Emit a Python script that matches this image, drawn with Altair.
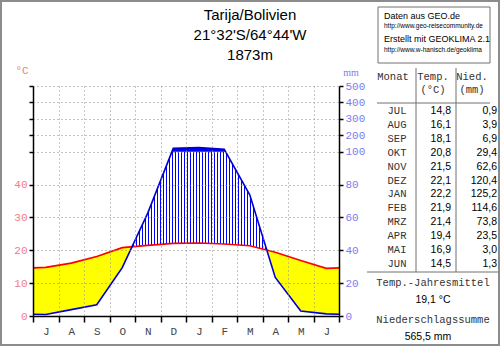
import altair as alt
import numpy as np
import pandas as pd

# ---------------- data ----------------
station_lines = ["Tarija/Bolivien", "21°32'S/64°44'W", "1873m"]
months_de = ["JUL", "AUG", "SEP", "OKT", "NOV", "DEZ", "JAN", "FEB", "MRZ", "APR", "MAI", "JUN"]
month_letters = ["J", "A", "S", "O", "N", "D", "J", "F", "M", "A", "M", "J"]
temp = [14.8, 16.1, 18.1, 20.8, 21.5, 22.1, 22.2, 21.9, 21.4, 19.4, 16.9, 14.5]
precip = [0.9, 3.9, 6.9, 29.4, 62.6, 120.4, 125.2, 114.6, 73.8, 23.5, 3.0, 1.3]
axis_levels = [0, 20, 40, 60, 80, 100, 110, 120, 130, 140]   # diagram units
source_lines = ["Daten aus GEO.de", "http://www.geo-reisecommunity.de",
                "Erstellt mit GEOKLIMA 2.1", "http://www.w-hanisch.de/geoklima"]

# ---------------- layout ----------------
OX, OY = 33, 86          # plot origin in page pixels
W, H = 306, 230          # plot area
PXM = W / 12             # pixels per month


def fmt(v):
    return f"{v:.1f}".replace(".", ",")


def to_units(p):
    return p if p <= 100 else 100 + (p - 100) / 10


# curves in diagram units (10 °C = 20 mm, above 100 mm compressed 1:10)
xv = np.array([0.0] + [i + 0.5 for i in range(12)] + [12.0])
t_edge = (temp[0] + temp[-1]) / 2
p_edge = (precip[0] + precip[-1]) / 2
tu = np.array([2 * t_edge] + [2 * t for t in temp] + [2 * t_edge])
pu = np.array([to_units(p_edge)] + [to_units(p) for p in precip] + [to_units(p_edge)])

extra = []
for i in range(len(xv) - 1):
    d0, d1 = tu[i] - pu[i], tu[i + 1] - pu[i + 1]
    if d0 * d1 < 0:
        extra.append(xv[i] + d0 / (d0 - d1) * (xv[i + 1] - xv[i]))
    e0, e1 = pu[i] - 100, pu[i + 1] - 100
    if e0 * e1 < 0:
        extra.append(xv[i] + e0 / (e0 - e1) * (xv[i + 1] - xv[i]))
xa = np.array(sorted(set(list(xv) + extra)))
ta = np.interp(xa, xv, tu)
pa = np.interp(xa, xv, pu)

dry_df = pd.DataFrame({"x": xa, "y": ta, "y2": np.where(ta > pa, pa, ta)})
wet_df = pd.DataFrame({"x": xa, "y": np.maximum(pa, 100), "y2": 100.0})
hx = np.arange(1.5 / PXM, 12, 3 / PXM)
ht = np.interp(hx, xv, tu)
hp = np.interp(hx, xv, pu)
keep = hp > ht
hatch_df = pd.DataFrame({"x": hx[keep], "y": ht[keep], "y2": np.minimum(hp[keep], 100)})
temp_df = pd.DataFrame({"x": xv, "y": tu})
prec_df = pd.DataFrame({"x": xv, "y": pu})

xscale = alt.Scale(domain=[0, 12], nice=False, zero=False)
yscale = alt.Scale(domain=[0, 140], nice=False, zero=False)
letters_js = "[" + ",".join(f"'{m}'" for m in month_letters) + "]"

grid_x = alt.Axis(orient="bottom", values=list(range(1, 12)), grid=True, gridDash=[1, 3],
                  gridColor="#8c8c8c", gridWidth=1, labels=False, ticks=False, domain=False,
                  title=None, zindex=1)
grid_y = alt.Axis(orient="left", values=axis_levels[1:], grid=True, gridDash=[1, 3],
                  gridColor="#8c8c8c", gridWidth=1, labels=False, ticks=False, domain=False,
                  title=None, zindex=1)

dry = alt.Chart(dry_df).mark_area(color="#ffff00", opacity=1, interpolate="linear").encode(
    x=alt.X("x:Q", scale=xscale, axis=grid_x),
    y=alt.Y("y:Q", scale=yscale, axis=grid_y),
    y2="y2:Q",
)

hatch = alt.Chart(hatch_df).mark_rule(color="#0000ff", strokeWidth=1).encode(
    x=alt.X("x:Q", scale=xscale, axis=None),
    y=alt.Y("y:Q", scale=yscale, axis=None),
    y2="y2:Q",
)

wet = alt.Chart(wet_df).mark_area(color="#0000ff", opacity=1, interpolate="linear").encode(
    x=alt.X("x:Q", scale=xscale, axis=None),
    y=alt.Y("y:Q", scale=yscale, axis=None),
    y2="y2:Q",
)

temp_line = alt.Chart(temp_df).mark_line(color="#ff0000", strokeWidth=1.6).encode(
    x=alt.X("x:Q", scale=xscale, axis=alt.Axis(
        orient="bottom", values=list(range(13)), grid=False, domainColor="black", domainWidth=1.5,
        tickColor="black", tickWidth=1.5, tickSize=6, labelOffset=PXM / 2, labelFlush=False,
        labelExpr=f"datum.value < 12 ? {letters_js}[datum.value] : ''",
        labelFont="Liberation Mono", labelFontSize=11, labelColor="#444444", labelPadding=3,
        title=None, zindex=2)),
    y=alt.Y("y:Q", scale=yscale, axis=alt.Axis(
        orient="left", values=axis_levels, grid=False, domainColor="black", domainWidth=1.5,
        tickColor="black", tickWidth=1.5, tickSize=4,
        labelExpr="datum.value <= 80 ? datum.value / 2 : ''",
        labelFont="Liberation Mono", labelFontSize=11, labelColor="#f07c84", labelPadding=2,
        title=None, zindex=2)),
)

prec_line = alt.Chart(prec_df).mark_line(color="#0000d0", strokeWidth=1.6).encode(
    x=alt.X("x:Q", scale=xscale, axis=None),
    y=alt.Y("y:Q", scale=yscale, axis=alt.Axis(
        orient="right", values=axis_levels, grid=False, domainColor="black", domainWidth=1.5,
        tickColor="black", tickWidth=1.5, tickSize=4,
        labelExpr="datum.value <= 100 ? datum.value : (datum.value - 100) * 10 + 100",
        labelFont="Liberation Mono", labelFontSize=11, labelColor="#7c7cf0", labelPadding=2,
        title=None, zindex=2)),
)

main = alt.layer(dry, hatch, wet, temp_line, prec_line).resolve_axis(x="independent", y="independent")

one = pd.DataFrame({"k": [0]})


def label(text, x, y, size=10.5, font="Liberation Mono", color="black", align="center",
          baseline="middle", **kw):
    return alt.Chart(pd.DataFrame({"t": [text]})).mark_text(
        align=align, baseline=baseline, font=font, fontSize=size, color=color, **kw
    ).encode(text="t:N", x=alt.value(x - OX), y=alt.value(y - OY))


def hline(x1, x2, y, color="#707070", w=1):
    return alt.Chart(one).mark_rule(color=color, strokeWidth=w).encode(
        x=alt.value(x1 - OX), x2=alt.value(x2 - OX), y=alt.value(y - OY))


def vline(x, y1, y2, color="#707070", w=1):
    return alt.Chart(one).mark_rule(color=color, strokeWidth=w).encode(
        x=alt.value(x - OX), y=alt.value(y1 - OY), y2=alt.value(y2 - OY))


def box(x1, y1, x2, y2, color, w):
    return alt.Chart(one).mark_rect(fillOpacity=0, stroke=color, strokeWidth=w).encode(
        x=alt.value(x1 - OX), x2=alt.value(x2 - OX), y=alt.value(y1 - OY), y2=alt.value(y2 - OY))


title = alt.Chart(pd.DataFrame({"t": ["\n".join(station_lines)]})).mark_text(
    align="center", baseline="alphabetic", font="Liberation Sans", fontSize=15,
    lineBreak="\n", lineHeight=20, color="black"
).encode(text="t:N", x=alt.value(250 - OX), y=alt.value(20 - OY))

unit_c = label("°C", 22, 71, size=11, color="#f07c84")
unit_mm = label("mm", 351, 73, size=10, color="#7c7cf0", font="Liberation Serif")

# table
tab_df = pd.DataFrame({
    "row": list(range(12)),
    "mon": months_de,
    "t": [fmt(v) for v in temp],
    "p": [fmt(v) for v in precip],
})
rowscale = alt.Scale(domain=[0, 11], range=[111 - OY, 264 - OY], nice=False, zero=False)
tab_base = alt.Chart(tab_df).encode(y=alt.Y("row:Q", scale=rowscale, axis=None))
tab_mon = tab_base.mark_text(align="center", baseline="middle", font="Liberation Mono",
                             fontSize=10.5, color="#333333").encode(text="mon:N", x=alt.value(397 - OX))
tab_t = tab_base.mark_text(align="right", baseline="middle", font="Liberation Sans",
                           fontSize=10.5, color="black").encode(text="t:N", x=alt.value(451 - OX))
tab_p = tab_base.mark_text(align="right", baseline="middle", font="Liberation Sans",
                           fontSize=10.5, color="black").encode(text="p:N", x=alt.value(497 - OX))
table = alt.layer(tab_mon, tab_t, tab_p)

mean_t = sum(temp) / len(temp)
sum_p = sum(precip)

deco = [
    box(1, 1, 499, 345, "#8c8c8c", 2),
    box(378, 7, 490, 63, "#707070", 1),
    label(source_lines[0], 384, 16, size=9, font="Liberation Sans", align="left"),
    label(source_lines[1], 384, 26, size=6.5, font="Liberation Sans", align="left"),
    label(source_lines[2], 384, 39, size=9, font="Liberation Sans", align="left"),
    label(source_lines[3], 384, 50, size=6.5, font="Liberation Sans", align="left"),
    label("Monat", 393, 77, color="#333333"),
    label("Temp.", 433, 77, color="#333333"),
    label("(°C)", 433, 90, color="#333333"),
    label("Nied.", 472, 77, color="#333333"),
    label("(mm)", 472, 90, color="#333333"),
    vline(416, 68, 272),
    vline(456, 68, 272),
    hline(377, 490, 103),
    hline(367, 498, 272),
    label("Temp.-Jahresmittel", 433, 283, color="#333333"),
    label(f"{fmt(mean_t)} °C", 433, 300, font="Liberation Sans"),
    label("Niederschlagssumme", 433, 320, color="#333333"),
    label(f"{fmt(sum_p)} mm", 428, 337, font="Liberation Sans"),
    unit_c,
    unit_mm,
    title,
]

chart = alt.layer(main, table, *deco).resolve_scale(x="independent", y="independent").properties(
    width=W, height=H,
    padding={"left": OX, "top": OY, "right": 500 - OX - W, "bottom": 346 - OY - H},
    autosize=alt.AutoSizeParams(type="none"),
    background="white",
).configure_view(stroke=None)

chart.save("out.html", embed_options={"renderer": "svg", "actions": False})
